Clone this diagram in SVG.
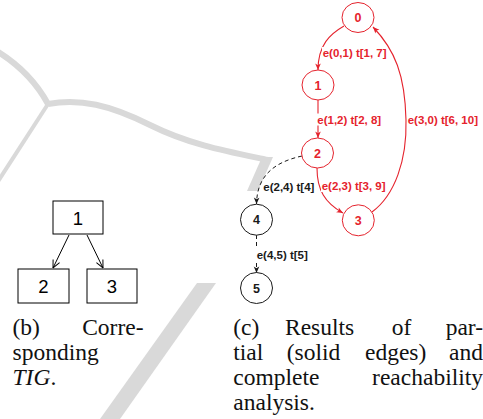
<svg xmlns="http://www.w3.org/2000/svg" width="483" height="419" viewBox="0 0 483 419">
  <style>
    .wm-line { fill: none; stroke: #d9d9d9; }
    .wm-fill { fill: #d9d9d9; }
    .node { fill: #ffffff; stroke-width: 1; }
    .red .node { stroke: #e5232d; }
    .black .node { stroke: #1a1a1a; }
    .num { font-family: "Liberation Sans", Arial, sans-serif; font-weight: bold; font-size: 12.5px; text-anchor: middle; }
    .red .num { fill: #e5232d; }
    .black .num { fill: #1a1a1a; }
    .elabel { font-family: "Liberation Sans", Arial, sans-serif; font-weight: bold; font-size: 11.5px; }
    .lbg { fill: #ffffff; }
    .edge-red { fill: none; stroke: #e5232d; stroke-width: 1.1; }
    .edge-dash { fill: none; stroke: #1a1a1a; stroke-width: 1; stroke-dasharray: 4 3; }
    .box { fill: #ffffff; stroke: #000000; stroke-width: 1; }
    .boxnum { font-family: "Liberation Sans", Arial, sans-serif; font-size: 18.5px; text-anchor: middle; fill: #000000; }
    .tig-edge { stroke: #000000; stroke-width: 1; fill: none; }
    .cap { font-family: "Liberation Serif", "Times New Roman", serif; font-size: 23.5px; fill: #111111; }
  </style>
  <defs>
    <marker id="arrowRed" viewBox="0 0 10 10" refX="9" refY="5" markerWidth="8" markerHeight="8" markerUnits="userSpaceOnUse" orient="auto">
      <path d="M1,1.5 L9,5 L1,8.5 L3,5 z" fill="#e5232d"/>
    </marker>
    <marker id="arrowBlack" viewBox="0 0 10 10" refX="9" refY="5" markerWidth="8" markerHeight="8" markerUnits="userSpaceOnUse" orient="auto">
      <path d="M1,1.5 L9,5 L1,8.5 L3,5 z" fill="#1a1a1a"/>
    </marker>
    <marker id="arrowOpen" viewBox="0 0 10 10" refX="9.5" refY="5" markerWidth="9" markerHeight="9" markerUnits="userSpaceOnUse" orient="auto">
      <path d="M1,1 L9.5,5 L1,9" fill="none" stroke="#000000" stroke-width="1.1"/>
    </marker>
  </defs>

  <!-- faint background swoosh and slash -->
  <g id="backdrop">
    <path class="wm-line" stroke-width="6" d="M-5,50 C15,62 35,80 48,104"/>
    <path class="wm-line" stroke-width="4" d="M48,104 L-5,186"/>
    <path class="wm-line" stroke-width="6" d="M48,104 C80,98 110,105 150,125 C190,145 230,152 268,160"/>
    <polygon class="wm-fill" points="262,157 273,157 258,191 247,191"/>
    <polygon class="wm-fill" points="197,283 216,283 120,419 100,419"/>
  </g>

  <!-- (b) task interference graph -->
  <g id="tig-edges">
    <line class="tig-edge" x1="69" y1="235" x2="53" y2="268" marker-end="url(#arrowOpen)"/>
    <line class="tig-edge" x1="87" y1="235" x2="103" y2="268" marker-end="url(#arrowOpen)"/>
  </g>
  <g id="tig1"><rect class="box" x="53" y="201" width="50" height="33"/><text class="boxnum" x="78" y="225">1</text></g>
  <g id="tig2"><rect class="box" x="18" y="269" width="51" height="34"/><text class="boxnum" x="43.5" y="293">2</text></g>
  <g id="tig3"><rect class="box" x="87" y="269" width="50" height="34"/><text class="boxnum" x="112" y="293">3</text></g>

  <!-- (c) reachability graph connectors -->
  <g id="connectors">
    <path class="edge-red" d="M344,26 C330,34 318,45 318,70" marker-end="url(#arrowRed)"/>
    <path class="edge-red" d="M318,100 L318,138" marker-end="url(#arrowRed)"/>
    <path class="edge-red" d="M317,168 C317,190 325,203 343,213" marker-end="url(#arrowRed)"/>
    <path class="edge-red" d="M372,212 C395,195 407,160 406,120 C405,75 395,50 373,27" marker-end="url(#arrowRed)"/>
    <path class="edge-dash" d="M302,156 C275,162 257,175 256.5,204" marker-end="url(#arrowBlack)"/>
    <path class="edge-dash" d="M256.5,235 L256.5,273" marker-end="url(#arrowBlack)"/>

    <g fill="#e5232d" class="elabel">
      <rect class="lbg" x="322" y="47" width="65" height="12"/>
      <text x="322.7" y="57">e(0,1) t[1, 7]</text>
      <rect class="lbg" x="317" y="113.5" width="65" height="12"/>
      <text x="317.3" y="123.5">e(1,2) t[2, 8]</text>
      <rect class="lbg" x="407" y="113.5" width="72" height="12"/>
      <text x="407.7" y="123.5">e(3,0) t[6, 10]</text>
      <rect class="lbg" x="321" y="180" width="65" height="12"/>
      <text x="321.7" y="190">e(2,3) t[3, 9]</text>
    </g>
    <g fill="#1a1a1a" class="elabel">
      <rect class="lbg" x="262.5" y="181" width="52" height="12"/>
      <text x="263.3" y="191">e(2,4) t[4]</text>
      <rect class="lbg" x="256" y="249" width="52" height="12"/>
      <text x="256.7" y="259">e(4,5) t[5]</text>
    </g>
  </g>

  <g id="n0" class="red"><ellipse class="node" cx="358" cy="17.5" rx="16" ry="15"/><text class="num" x="358" y="22">0</text></g>
  <g id="n1" class="red"><ellipse class="node" cx="318" cy="85" rx="16" ry="15"/><text class="num" x="318" y="89.5">1</text></g>
  <g id="n2" class="red"><ellipse class="node" cx="317.5" cy="153" rx="16" ry="15"/><text class="num" x="317.5" y="157.5">2</text></g>
  <g id="n3" class="red"><ellipse class="node" cx="358.3" cy="220.3" rx="16" ry="15.5"/><text class="num" x="358.3" y="224.8">3</text></g>
  <g id="n4" class="black"><ellipse class="node" cx="256.5" cy="219.7" rx="16" ry="15.5"/><text class="num" x="256.5" y="224.2">4</text></g>
  <g id="n5" class="black"><ellipse class="node" cx="256.5" cy="288" rx="16" ry="15.5"/><text class="num" x="256.5" y="292.5">5</text></g>

  <!-- captions -->
  <g id="caption-b" class="cap">
    <text x="12.5" y="335">(b)</text>
    <text x="143.5" y="335" text-anchor="end">Corre-</text>
    <text x="12.5" y="360">sponding</text>
    <text x="12.5" y="385"><tspan font-style="italic">TIG</tspan>.</text>
  </g>
  <g id="caption-c" class="cap">
    <text x="233.3" y="335">(c)</text>
    <text x="285" y="335">Results</text>
    <text x="391.7" y="335">of</text>
    <text x="483" y="335" text-anchor="end">par-</text>
    <text x="233.3" y="360">tial</text>
    <text x="286.7" y="360">(solid</text>
    <text x="365" y="360">edges)</text>
    <text x="483" y="360" text-anchor="end">and</text>
    <text x="233.3" y="385">complete</text>
    <text x="483" y="385" text-anchor="end">reachability</text>
    <text x="233.3" y="410">analysis.</text>
  </g>
</svg>
